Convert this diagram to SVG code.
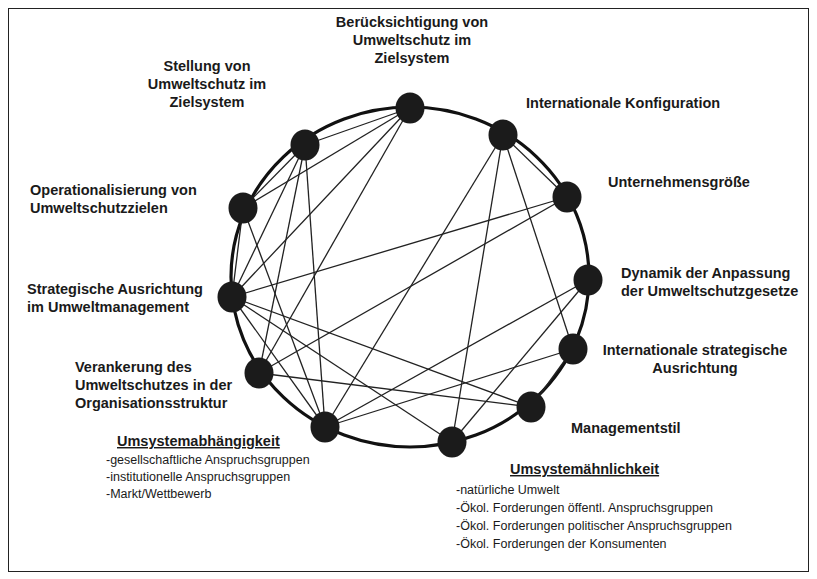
<svg xmlns="http://www.w3.org/2000/svg" width="817" height="579" viewBox="0 0 817 579">
<style>
.bg{fill:#fff}
.frame{fill:none;stroke:#222;stroke-width:1}
.ring{fill:none;stroke:#111;stroke-width:3.2}
.node{fill:#1b1b1b}
.edge{stroke:#222;stroke-width:1.3;fill:none}
.lb{font-family:"Liberation Sans",Arial,sans-serif;font-weight:bold;font-size:14.5px;fill:#1a1a1a}
.tx{font-family:"Liberation Sans",Arial,sans-serif;font-size:12.5px;fill:#1a1a1a}
.mid{text-anchor:middle}
</style>
<rect class="bg" x="0" y="0" width="817" height="579"/>
<rect class="frame" x="8.5" y="8.5" width="800" height="563"/>
<ellipse class="ring" cx="410" cy="277" rx="179" ry="170"/>
<g id="connectors">
<line class="edge" x1="410" y1="108" x2="305" y2="145"/>
<line class="edge" x1="410" y1="108" x2="243" y2="208"/>
<line class="edge" x1="410" y1="108" x2="232" y2="297"/>
<line class="edge" x1="410" y1="108" x2="259" y2="373"/>
<line class="edge" x1="305" y1="145" x2="243" y2="208"/>
<line class="edge" x1="305" y1="145" x2="232" y2="297"/>
<line class="edge" x1="305" y1="145" x2="259" y2="373"/>
<line class="edge" x1="305" y1="145" x2="325" y2="427"/>
<line class="edge" x1="243" y1="208" x2="232" y2="297"/>
<line class="edge" x1="243" y1="208" x2="325" y2="427"/>
<line class="edge" x1="232" y1="297" x2="567" y2="197"/>
<line class="edge" x1="232" y1="297" x2="531" y2="407"/>
<line class="edge" x1="232" y1="297" x2="452" y2="442"/>
<line class="edge" x1="232" y1="297" x2="325" y2="427"/>
<line class="edge" x1="259" y1="373" x2="567" y2="197"/>
<line class="edge" x1="259" y1="373" x2="531" y2="407"/>
<line class="edge" x1="325" y1="427" x2="503" y2="135"/>
<line class="edge" x1="325" y1="427" x2="588" y2="280"/>
<line class="edge" x1="325" y1="427" x2="573" y2="349"/>
<line class="edge" x1="452" y1="442" x2="503" y2="135"/>
<line class="edge" x1="452" y1="442" x2="588" y2="280"/>
<line class="edge" x1="503" y1="135" x2="567" y2="197"/>
<line class="edge" x1="503" y1="135" x2="573" y2="349"/>
<line class="edge" x1="573" y1="349" x2="531" y2="407"/>
</g>
<g id="n-beruecksichtigung"><ellipse class="node" cx="410" cy="108" rx="14.5" ry="15.5"/>
<text class="lb mid" x="412" y="27">Berücksichtigung von</text><text class="lb mid" x="412" y="45">Umweltschutz im</text><text class="lb mid" x="412" y="63">Zielsystem</text></g>
<g id="n-intkonfig"><ellipse class="node" cx="503" cy="135" rx="14.5" ry="15.5"/>
<text class="lb" x="526" y="108">Internationale Konfiguration</text></g>
<g id="n-groesse"><ellipse class="node" cx="567" cy="197" rx="14.5" ry="15.5"/>
<text class="lb" x="608" y="187">Unternehmensgröße</text></g>
<g id="n-dynamik"><ellipse class="node" cx="588" cy="280" rx="14.5" ry="15.5"/>
<text class="lb" x="621" y="278">Dynamik der Anpassung</text><text class="lb" x="621" y="296">der Umweltschutzgesetze</text></g>
<g id="n-intstrat"><ellipse class="node" cx="573" cy="349" rx="14.5" ry="15.5"/>
<text class="lb mid" x="695" y="355">Internationale strategische</text><text class="lb mid" x="695" y="373">Ausrichtung</text></g>
<g id="n-management"><ellipse class="node" cx="531" cy="407" rx="14.5" ry="15.5"/>
<text class="lb" x="571" y="433">Managementstil</text></g>
<g id="n-aehnlichkeit"><ellipse class="node" cx="452" cy="442" rx="14.5" ry="15.5"/>
<text class="lb" x="510" y="474" text-decoration="underline">Umsystemähnlichkeit</text>
<text class="tx" x="456" y="494">-natürliche Umwelt</text>
<text class="tx" x="456" y="512">-Ökol. Forderungen öffentl. Anspruchsgruppen</text>
<text class="tx" x="456" y="530">-Ökol. Forderungen politischer Anspruchsgruppen</text>
<text class="tx" x="456" y="548">-Ökol. Forderungen der Konsumenten</text></g>
<g id="n-abhaengigkeit"><ellipse class="node" cx="325" cy="427" rx="14.5" ry="15.5"/>
<text class="lb" x="117" y="446" text-decoration="underline">Umsystemabhängigkeit</text>
<text class="tx" x="106" y="464">-gesellschaftliche Anspruchsgruppen</text>
<text class="tx" x="106" y="481">-institutionelle Anspruchsgruppen</text>
<text class="tx" x="106" y="498">-Markt/Wettbewerb</text></g>
<g id="n-verankerung"><ellipse class="node" cx="259" cy="373" rx="14.5" ry="15.5"/>
<text class="lb" x="75" y="372">Verankerung des</text><text class="lb" x="75" y="390">Umweltschutzes in der</text><text class="lb" x="75" y="408">Organisationsstruktur</text></g>
<g id="n-strategisch"><ellipse class="node" cx="232" cy="297" rx="14.5" ry="15.5"/>
<text class="lb" x="27" y="294">Strategische Ausrichtung</text><text class="lb" x="27" y="312">im Umweltmanagement</text></g>
<g id="n-operationalisierung"><ellipse class="node" cx="243" cy="208" rx="14.5" ry="15.5"/>
<text class="lb" x="30" y="195">Operationalisierung von</text><text class="lb" x="30" y="213">Umweltschutzzielen</text></g>
<g id="n-stellung"><ellipse class="node" cx="305" cy="145" rx="14.5" ry="15.5"/>
<text class="lb mid" x="207" y="71">Stellung von</text><text class="lb mid" x="207" y="89">Umweltschutz im</text><text class="lb mid" x="207" y="107">Zielsystem</text></g>
</svg>
